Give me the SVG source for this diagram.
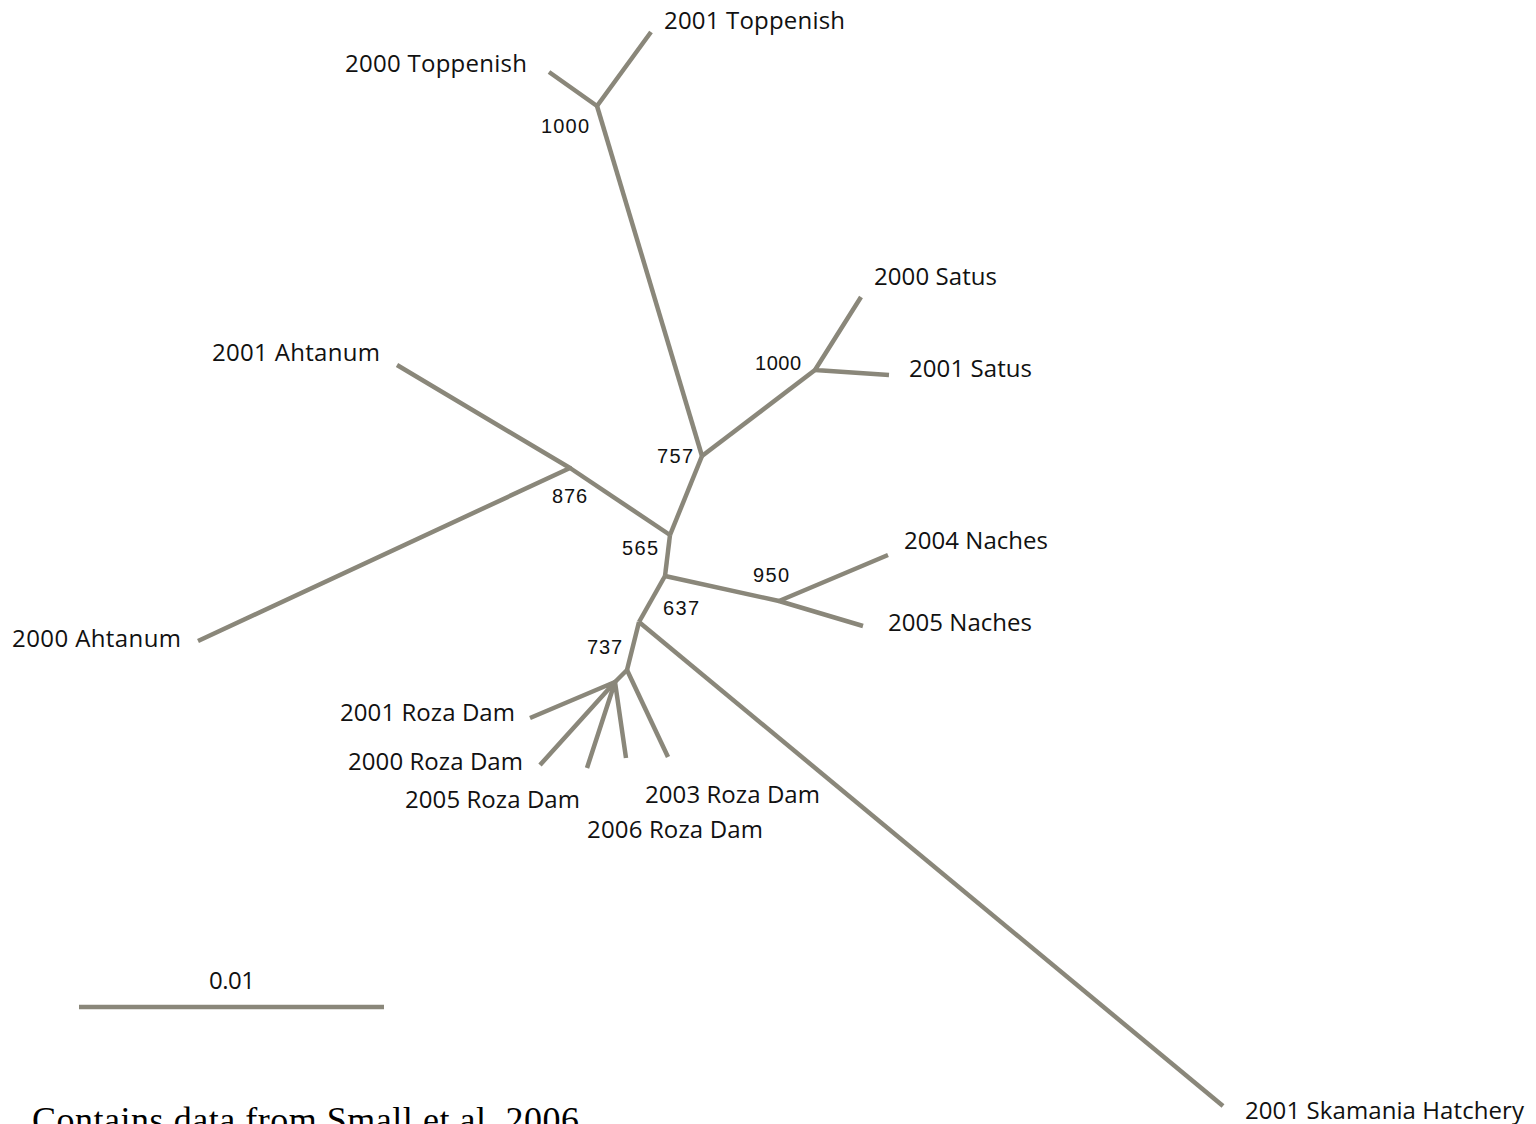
<svg xmlns="http://www.w3.org/2000/svg" width="1536" height="1124" viewBox="0 0 1536 1124">
<style>
.br{stroke:#8a877a;stroke-width:4.5;fill:none;stroke-linecap:butt;stroke-linejoin:round}
.lb{font-family:"Open Sans","Noto Sans",sans-serif;font-size:24px;fill:#111}
.bs{font-family:"Liberation Sans",Arial,sans-serif;font-size:20px;fill:#111}
.cap{font-family:"Liberation Serif","Times New Roman",serif;font-size:36px;fill:#000}
</style>
<rect width="1536" height="1124" fill="#fff"/>
<g id="connectors">
<polyline class="br" points="549,72 597,106 651,32"/>
<polyline class="br" points="597,106 702,456"/>
<polyline class="br" points="702,456 815,370"/>
<polyline class="br" points="861,297 815,370 889,375"/>
<polyline class="br" points="702,456 670,535"/>
<polyline class="br" points="670,535 570,468"/>
<polyline class="br" points="397,365 570,468 198,641"/>
<polyline class="br" points="670,535 665,576"/>
<polyline class="br" points="665,576 779,601"/>
<polyline class="br" points="888,555 779,601 863,626"/>
<polyline class="br" points="665,576 639,622"/>
<polyline class="br" points="639,622 1223,1106"/>
<polyline class="br" points="639,622 627,670"/>
<polyline class="br" points="627,670 668,757"/>
<polyline class="br" points="627,670 615,682"/>
<polyline class="br" points="530,718 615,682 540,765"/>
<polyline class="br" points="587,768 615,682 626,758"/>
<line class="br" x1="79" y1="1007" x2="384" y2="1007"/>
</g>
<g id="n-2001-toppenish"><text class="lb" x="664" y="29" textLength="181">2001 Toppenish</text></g>
<g id="n-2000-toppenish"><text class="lb" x="345" y="72" textLength="182">2000 Toppenish</text></g>
<g id="n-2000-satus"><text class="lb" x="874" y="285" textLength="123">2000 Satus</text></g>
<g id="n-2001-satus"><text class="lb" x="909" y="377" textLength="123">2001 Satus</text></g>
<g id="n-2001-ahtanum"><text class="lb" x="212" y="361" textLength="168">2001 Ahtanum</text></g>
<g id="n-2000-ahtanum"><text class="lb" x="12" y="647" textLength="169">2000 Ahtanum</text></g>
<g id="n-2004-naches"><text class="lb" x="904" y="549" textLength="144">2004 Naches</text></g>
<g id="n-2005-naches"><text class="lb" x="888" y="631" textLength="144">2005 Naches</text></g>
<g id="n-2001-roza"><text class="lb" x="340" y="721" textLength="175">2001 Roza Dam</text></g>
<g id="n-2000-roza"><text class="lb" x="348" y="770" textLength="175">2000 Roza Dam</text></g>
<g id="n-2005-roza"><text class="lb" x="405" y="808" textLength="175">2005 Roza Dam</text></g>
<g id="n-2003-roza"><text class="lb" x="645" y="803" textLength="175">2003 Roza Dam</text></g>
<g id="n-2006-roza"><text class="lb" x="587" y="838" textLength="176">2006 Roza Dam</text></g>
<g id="n-skamania"><text class="lb" x="1245" y="1119" textLength="279">2001 Skamania Hatchery</text></g>
<g id="bootstrap">
<text class="bs" x="541" y="133" textLength="48">1000</text>
<text class="bs" x="755" y="370" textLength="46">1000</text>
<text class="bs" x="657" y="463" textLength="36">757</text>
<text class="bs" x="552" y="503" textLength="35">876</text>
<text class="bs" x="622" y="555" textLength="36">565</text>
<text class="bs" x="663" y="615" textLength="36">637</text>
<text class="bs" x="587" y="654" textLength="35">737</text>
<text class="bs" x="753" y="582" textLength="36">950</text>
</g>
<g id="scale"><text class="lb" x="209" y="989" textLength="46">0.01</text></g>
<text class="cap" x="32" y="1132" textLength="547">Contains data from Small et al. 2006</text>
</svg>
